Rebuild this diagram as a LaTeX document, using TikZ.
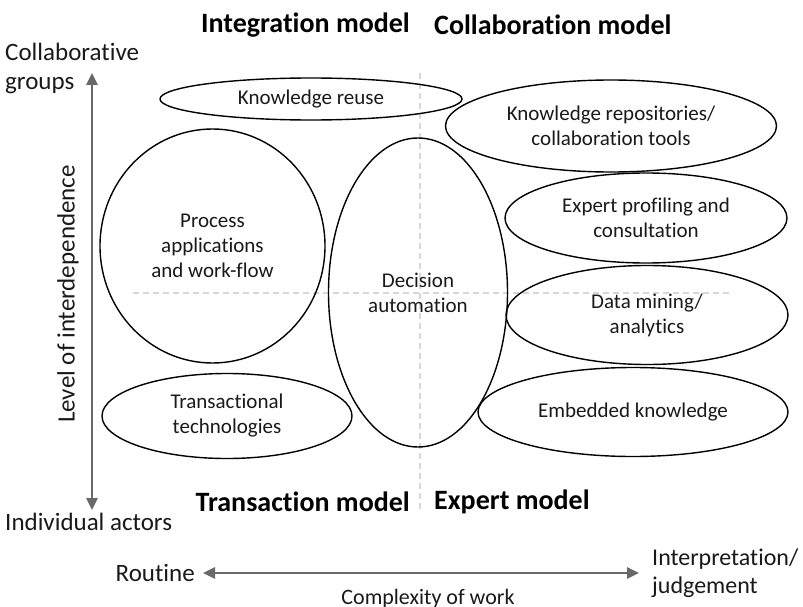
\documentclass[tikz,border=0pt]{standalone}
\usepackage{fontspec}
\setmainfont{Carlito}[Ligatures=CommonOff]
\usetikzlibrary{shapes.geometric,arrows.meta}
\definecolor{axisgray}{RGB}{105,105,105}
\definecolor{gridgray}{RGB}{215,215,215}
\definecolor{txt}{RGB}{25,25,25}
\begin{document}
\begin{tikzpicture}[x=1pt,y=-1pt,
  blob/.style={ellipse,draw=black,line width=1.4pt,inner sep=0pt,align=center,
    text=txt,font=\fontsize{21}{25}\selectfont},
  quad/.style={font=\bfseries\fontsize{28}{32}\selectfont,text=black,inner sep=0pt},
  axislabel/.style={font=\fontsize{25}{29}\selectfont,text=txt,inner sep=0pt},
  axis/.style={draw=axisgray,line width=2.6pt,
    {Triangle[length=12pt,width=11pt]}-{Triangle[length=12pt,width=11pt]}},
  grid/.style={draw=gridgray,line width=1.3pt,dash pattern=on 6pt off 4pt}]
\useasboundingbox (0,0) rectangle (803,607);

% quadrant dividers
\coordinate (vtop) at (420,73);
\coordinate (vbot) at (420,512);
\coordinate (hl) at (133,293);
\coordinate (hr) at (730,293);
\draw[grid] (vtop) -- (vbot);
\draw[grid] (hl) -- (hr);

% quadrant titles
\node[quad,anchor=east] (integ) at (410,25) {Integration model};
\node[quad,anchor=west] (collab) at (434,25) {Collaboration model};
\node[quad,anchor=east] (trans) at (410,502) {Transaction model};
\node[quad,anchor=west] (expert) at (434,502) {Expert model};

% technologies
\node[blob,minimum width=302pt,minimum height=42pt] (reuse) at (311,99) {Knowledge reuse};
\node[blob,minimum width=331pt,minimum height=92pt] (repo) at (611,126) {Knowledge repositories/\\collaboration tools};
\node[blob,minimum width=225pt,minimum height=234pt] (proc) at (212.5,246) {Process\\applications\\and work-flow};
\node[blob,minimum width=179pt,minimum height=309pt] (decis) at (418,292.5) {Decision\\automation};
\node[blob,minimum width=282pt,minimum height=90pt] (profil) at (646,218) {Expert profiling and\\consultation};
\node[blob,minimum width=282pt,minimum height=99pt] (mining) at (647,315) {Data mining/\\analytics};
\node[blob,minimum width=250pt,minimum height=85pt] (transtech) at (227,416) {Transactional\\technologies};
\node[blob,minimum width=310pt,minimum height=89pt] (embed) at (633,412) {Embedded knowledge};

% vertical axis
\node[axislabel,anchor=west,align=left] (groups) at (5,68) {Collaborative\\groups};
\node[axislabel,anchor=west] (indiv) at (5,522) {Individual actors};
\coordinate (ytop) at (92,73);
\coordinate (ybot) at (92,510);
\draw[axis] (ybot) -- (ytop);
\node[axislabel,rotate=90] (interdep) at (68,294) {Level of interdependence};

% horizontal axis
\node[axislabel,anchor=east] (routine) at (195,573) {Routine};
\node[axislabel,anchor=west,align=left,font=\fontsize{24}{28}\selectfont] (interp) at (652,573) {Interpretation/\\judgement};
\coordinate (xl) at (203,573);
\coordinate (xr) at (639,573);
\draw[axis] (xl) -- (xr);
\node[axislabel,font=\fontsize{22}{26}\selectfont] (complex) at (428,599) {Complexity of work};
\end{tikzpicture}
\end{document}
